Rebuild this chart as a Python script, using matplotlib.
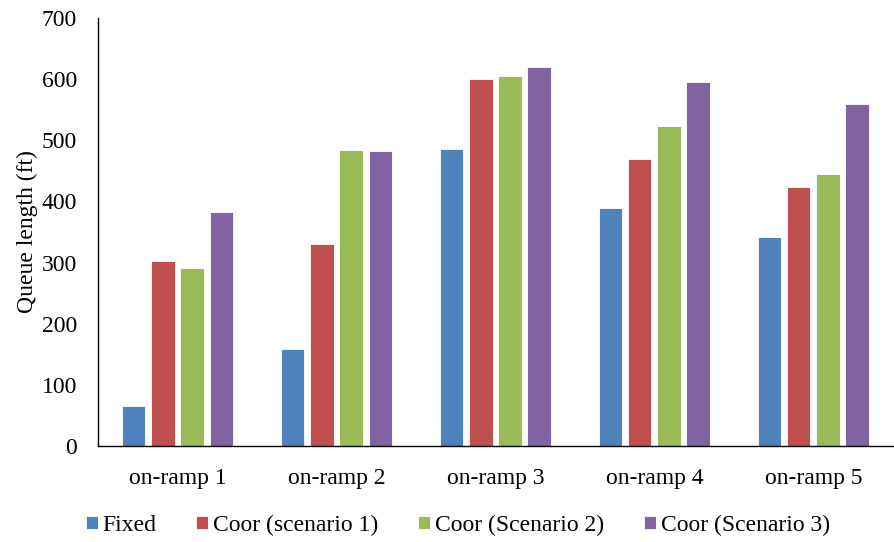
import matplotlib.pyplot as plt
import numpy as np

plt.rcParams['font.family'] = ['Liberation Serif', 'DejaVu Serif']
plt.rcParams['font.size'] = 17

# queue length per on-ramp (ft)
ramps = ['on-ramp 1', 'on-ramp 2', 'on-ramp 3', 'on-ramp 4', 'on-ramp 5']
fixed = [66, 158, 485, 390, 341]
coor_s1 = [303, 330, 600, 469, 424]
coor_s2 = [291, 484, 605, 523, 445]
coor_s3 = [382, 482, 620, 595, 559]

series = [
    ('Fixed', fixed, '#4F81BD'),
    ('Coor (scenario 1)', coor_s1, '#C0504D'),
    ('Coor (Scenario 2)', coor_s2, '#9BBB59'),
    ('Coor (Scenario 3)', coor_s3, '#8064A2'),
]

fig = plt.figure(figsize=(8.94, 5.42), dpi=100)
ax = fig.add_axes([0.1096, 0.177, 0.889, 0.79])

x = np.arange(len(ramps))
pitch = 0.184
width = 0.148
for i, (name, vals, color) in enumerate(series):
    ax.bar(x + (i - 1.5) * pitch, vals, width, color=color, label=name,
           edgecolor='white', linewidth=0.6)

ax.set_xlim(-0.5, len(ramps) - 0.5)
ax.set_ylim(0, 700)
ax.set_yticks(np.arange(0, 701, 100))
ax.set_xticks(x)
ax.set_xticklabels(ramps)
ax.tick_params(axis='y', length=0, pad=15)
ax.tick_params(axis='x', length=0, pad=16)

for side in ['top', 'right']:
    ax.spines[side].set_visible(False)
ax.spines['left'].set_linewidth(1.0)
ax.spines['bottom'].set_linewidth(1.0)

ax.set_ylabel('Queue length (ft)', labelpad=3)

fig.legend(loc='center', bbox_to_anchor=(0.512, 0.031), ncol=4, frameon=False,
           handlelength=0.5, handleheight=0.5, handletextpad=0.2,
           columnspacing=1.7, fontsize=17)

plt.savefig('out.png', dpi=100)
